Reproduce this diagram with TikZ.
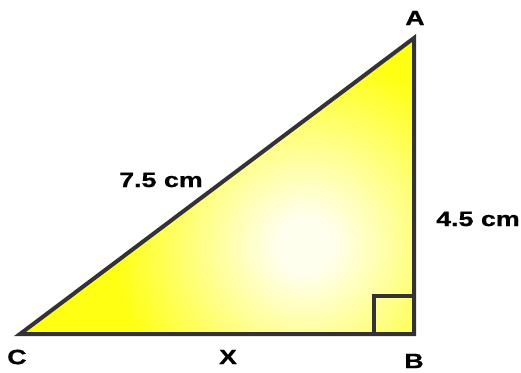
\documentclass[tikz,border=0pt]{standalone}
\usepackage{fontspec}
\newfontfamily\lblfont{Liberation Sans}[FakeStretch=1.3,FakeBold=0.8]
\usepackage{tikz}
\usetikzlibrary{positioning,calc}
\definecolor{edge}{HTML}{333333}
\definecolor{lemon}{HTML}{FFFF14}
\definecolor{pale}{HTML}{FFFFEE}
\pgfdeclareradialshading{glow}{\pgfpoint{0bp}{0bp}}{color(0bp)=(pale); color(2bp)=(pale); color(14bp)=(lemon); color(50bp)=(lemon)}
\tikzset{
  every node/.style={font=\lblfont\bfseries\fontsize{15.5}{18}\selectfont,text=black,inner sep=0pt},
  side/.style={draw=edge,line width=3pt,line join=miter},
  rightmark/.style={draw=edge,line width=2.6pt},
  vlabel/.style={anchor=center},
  len/.style={anchor=center}
}
\begin{document}
\begin{tikzpicture}[x=0.75pt,y=-0.75pt]
  \useasboundingbox (0,0) rectangle (521,372);
  \coordinate (C) at (20,334);
  \coordinate (B) at (414,334);
  \coordinate (A) at (414,38);

  \begin{scope}
    \clip (C)--(B)--(A)--cycle;
    \shade[shading=glow] (305,245) circle (340);
  \end{scope}
  \draw[rightmark] ($(B)+(-40,0)$) |- ($(B)+(0,-38)$);
  \draw[side] (C)--(B)--(A)--cycle;

  \node[vlabel] (lA) at (415,18) {A};
  \node[vlabel] (lB) at (414,361) {B};
  \node[vlabel] (lC) at (17,357) {C};
  \node[len] (lx) at (228,357) {X};
  \node[len] (lAB) at (478,219) {4.5 cm};
  \node[len] (lAC) at (161,180) {7.5 cm};
\end{tikzpicture}
\end{document}
